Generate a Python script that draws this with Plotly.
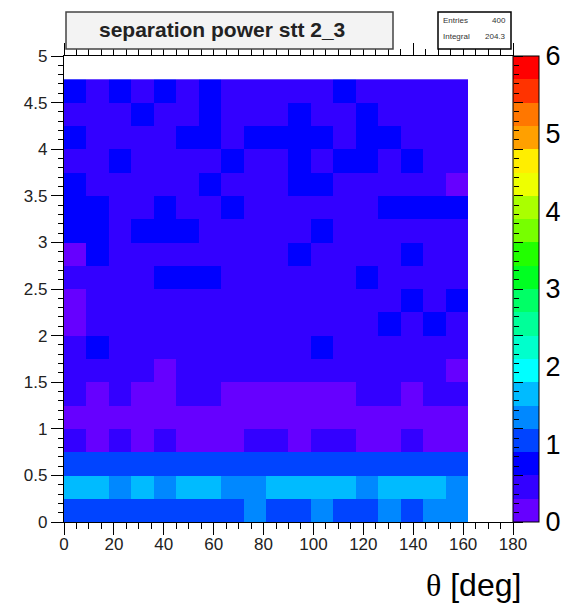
import plotly.graph_objects as go

# ---------------- data ----------------
theta_centers = [4.5, 13.5, 22.5, 31.5, 40.5, 49.5, 58.5, 67.5, 76.5,
                 85.5, 94.5, 103.5, 112.5, 121.5, 130.5, 139.5, 148.5, 157.5]
y_centers = [0.125, 0.375, 0.625, 0.875, 1.125, 1.375, 1.625, 1.875, 2.125, 2.375,
             2.625, 2.875, 3.125, 3.375, 3.625, 3.875, 4.125, 4.375, 4.625]

# separation power per cell (rows from y=0 upward)
separation = [
    [1.05, 1.05, 1.05, 1.05, 1.05, 1.05, 1.05, 1.05, 1.35, 1.05, 1.05, 1.35, 1.05, 1.05, 1.35, 1.05, 1.35, 1.35],
    [1.65, 1.65, 1.35, 1.65, 1.35, 1.65, 1.65, 1.35, 1.35, 1.65, 1.65, 1.65, 1.65, 1.35, 1.65, 1.65, 1.65, 1.35],
    [1.05, 1.05, 1.05, 1.05, 1.05, 1.05, 1.05, 1.05, 1.05, 1.05, 1.05, 1.05, 1.05, 1.05, 1.05, 1.05, 1.05, 1.05],
    [0.45, 0.2, 0.45, 0.2, 0.45, 0.2, 0.2, 0.2, 0.45, 0.45, 0.2, 0.45, 0.45, 0.2, 0.2, 0.45, 0.2, 0.2],
    [0.2, 0.2, 0.2, 0.2, 0.2, 0.2, 0.2, 0.2, 0.2, 0.2, 0.2, 0.2, 0.2, 0.2, 0.2, 0.2, 0.2, 0.2],
    [0.45, 0.2, 0.45, 0.2, 0.2, 0.45, 0.45, 0.2, 0.2, 0.2, 0.2, 0.2, 0.2, 0.45, 0.45, 0.2, 0.45, 0.45],
    [0.45, 0.45, 0.45, 0.45, 0.2, 0.45, 0.45, 0.45, 0.45, 0.45, 0.45, 0.45, 0.45, 0.45, 0.45, 0.45, 0.45, 0.2],
    [0.45, 0.75, 0.45, 0.45, 0.45, 0.45, 0.45, 0.45, 0.45, 0.45, 0.45, 0.75, 0.45, 0.45, 0.45, 0.45, 0.45, 0.45],
    [0.2, 0.45, 0.45, 0.45, 0.45, 0.45, 0.45, 0.45, 0.45, 0.45, 0.45, 0.45, 0.45, 0.45, 0.75, 0.45, 0.75, 0.45],
    [0.2, 0.45, 0.45, 0.45, 0.45, 0.45, 0.45, 0.45, 0.45, 0.45, 0.45, 0.45, 0.45, 0.45, 0.45, 0.75, 0.45, 0.75],
    [0.45, 0.45, 0.45, 0.45, 0.75, 0.75, 0.75, 0.45, 0.45, 0.45, 0.45, 0.45, 0.45, 0.75, 0.45, 0.45, 0.45, 0.45],
    [0.2, 0.75, 0.45, 0.45, 0.45, 0.45, 0.45, 0.45, 0.45, 0.45, 0.75, 0.45, 0.45, 0.45, 0.45, 0.75, 0.45, 0.45],
    [0.75, 0.75, 0.45, 0.75, 0.75, 0.75, 0.45, 0.45, 0.45, 0.45, 0.45, 0.75, 0.45, 0.45, 0.45, 0.45, 0.45, 0.45],
    [0.75, 0.75, 0.45, 0.45, 0.75, 0.45, 0.45, 0.75, 0.45, 0.45, 0.45, 0.45, 0.45, 0.45, 0.75, 0.75, 0.75, 0.75],
    [0.75, 0.45, 0.45, 0.45, 0.45, 0.45, 0.75, 0.45, 0.45, 0.45, 0.75, 0.75, 0.45, 0.45, 0.45, 0.45, 0.45, 0.2],
    [0.45, 0.45, 0.75, 0.45, 0.45, 0.45, 0.45, 0.75, 0.45, 0.45, 0.75, 0.45, 0.75, 0.75, 0.45, 0.75, 0.45, 0.45],
    [0.75, 0.45, 0.45, 0.45, 0.45, 0.75, 0.75, 0.45, 0.75, 0.75, 0.75, 0.75, 0.45, 0.75, 0.75, 0.45, 0.45, 0.45],
    [0.45, 0.45, 0.45, 0.75, 0.45, 0.45, 0.75, 0.45, 0.45, 0.45, 0.75, 0.45, 0.45, 0.75, 0.45, 0.45, 0.45, 0.45],
    [0.75, 0.45, 0.75, 0.45, 0.75, 0.45, 0.75, 0.45, 0.45, 0.45, 0.45, 0.45, 0.75, 0.45, 0.45, 0.45, 0.45, 0.45],
]

colorbar_ticks = [0, 1, 2, 3, 4, 5, 6]
palette = ["#6600FF", "#3300FF", "#0000FF", "#0044FF", "#0088FF", "#00BBFF",
           "#00FFFF", "#00FFCC", "#00FF99", "#00FF66", "#00FF22", "#22FF00",
           "#77FF00", "#AAFF00", "#EEFF00", "#FFEE00", "#FFA000", "#FF7700",
           "#FF3300", "#FF0000"]
title_text = "separation power stt 2_3"
stats_labels = ["Entries", "Integral"]
stats_values = ["400", "204.3"]

# ---------------- layout geometry ----------------
W, H = 576, 610
L, R, T, B = 64, 513, 56, 522

def px(x):
    return (x - L) / (R - L)

def py(y):
    return (B - y) / (B - T)

n = len(palette)
cscale = []
for i, c in enumerate(palette):
    cscale.append([i / n, c])
    cscale.append([(i + 1) / n, c])

fig = go.Figure()
fig.add_trace(go.Heatmap(
    x=theta_centers, y=y_centers, z=separation,
    zmin=0, zmax=6, colorscale=cscale, zsmooth=False, hoverinfo="skip",
    colorbar=dict(
        thickness=26, thicknessmode="pixels", len=1, lenmode="fraction",
        x=1.0, xanchor="left", xpad=0, y=0.5, yanchor="middle", ypad=0,
        outlinewidth=1, outlinecolor="black",
        tickvals=colorbar_ticks, ticks="", ticklabelposition="outside",
        tickfont=dict(family="Liberation Sans, Arial", size=27, color="black"),
    ),
))

# right-hand tick marks of the frame (drawn over the colour bar, as in ROOT)
transparent = [[0, "rgba(0,0,0,0)"], [1, "rgba(0,0,0,0)"]]
for dt, ln in [(0.5, 9), (0.1, 5)]:
    fig.add_trace(go.Scatter(
        x=[None], y=[None], mode="markers", hoverinfo="skip", showlegend=False,
        marker=dict(color=[0], cmin=0, cmax=5, colorscale=transparent, showscale=True,
                    colorbar=dict(thickness=1, len=1, x=1.0, xanchor="left", xpad=0,
                                  y=0.5, yanchor="middle", ypad=0, outlinewidth=0,
                                  tick0=0, dtick=dt, ticks="outside", ticklen=ln,
                                  tickwidth=1.2, tickcolor="black", showticklabels=False)),
    ))

tickfont = dict(family="Liberation Sans, Arial", size=17, color="#222")
fig.update_xaxes(range=[0, 180], tick0=0, dtick=20, ticks="outside", ticklen=12,
                 tickwidth=1.2, tickcolor="black", mirror="allticks", showline=True,
                 linecolor="black", linewidth=1.2, showgrid=False, zeroline=False,
                 tickfont=tickfont, ticklabelstandoff=-6,
                 minor=dict(dtick=5, ticks="outside", ticklen=6, tickwidth=1.2,
                            tickcolor="black", showgrid=False))
fig.update_yaxes(range=[0, 5], tick0=0, dtick=0.5, ticks="outside", ticklen=12,
                 tickwidth=1.2, tickcolor="black", mirror=True, showline=True,
                 linecolor="black", linewidth=1.2, showgrid=False, zeroline=False,
                 tickfont=tickfont,
                 minor=dict(dtick=0.1, ticks="outside", ticklen=5, tickwidth=1.2,
                            tickcolor="black", showgrid=False))

shapes = [
    dict(type="rect", xref="paper", yref="paper", x0=px(66), x1=px(393), y0=py(49), y1=py(12),
         line=dict(color="#444", width=1.5), fillcolor="#f3f3f3", layer="above"),
    dict(type="rect", xref="paper", yref="paper", x0=px(438), x1=px(511), y0=py(49), y1=py(12),
         line=dict(color="black", width=1.5), fillcolor="white", layer="above"),
]
annotations = [
    dict(text="<b>" + title_text + "</b>", xref="paper", yref="paper", x=px(222), y=py(30),
         xanchor="center", yanchor="middle", showarrow=False,
         font=dict(family="Liberation Sans, Arial", size=21, color="#222")),
    dict(text='<span style="font-family:Liberation Serif, Times New Roman">θ</span> [deg]',
         xref="paper", yref="paper", x=px(523), y=py(585), xanchor="right", yanchor="middle",
         showarrow=False, font=dict(family="Liberation Sans, Arial", size=32, color="black")),
]
for i, (lab, val) in enumerate(zip(stats_labels, stats_values)):
    yy = py(21 + i * 16)
    annotations.append(dict(text=lab, xref="paper", yref="paper", x=px(441), y=yy,
                            xanchor="left", yanchor="middle", showarrow=False,
                            font=dict(family="Liberation Sans, Arial", size=8, color="#333")))
    annotations.append(dict(text=val, xref="paper", yref="paper", x=px(508), y=yy,
                            xanchor="right", yanchor="middle", showarrow=False,
                            font=dict(family="Liberation Sans, Arial", size=8, color="#333")))

fig.update_layout(
    template="none",
    width=W, height=H, autosize=False,
    margin=dict(l=L, r=W - R, t=T, b=H - B, pad=0),
    paper_bgcolor="white", plot_bgcolor="white",
    shapes=shapes, annotations=annotations, showlegend=False,
)

fig.write_html("out.html")
